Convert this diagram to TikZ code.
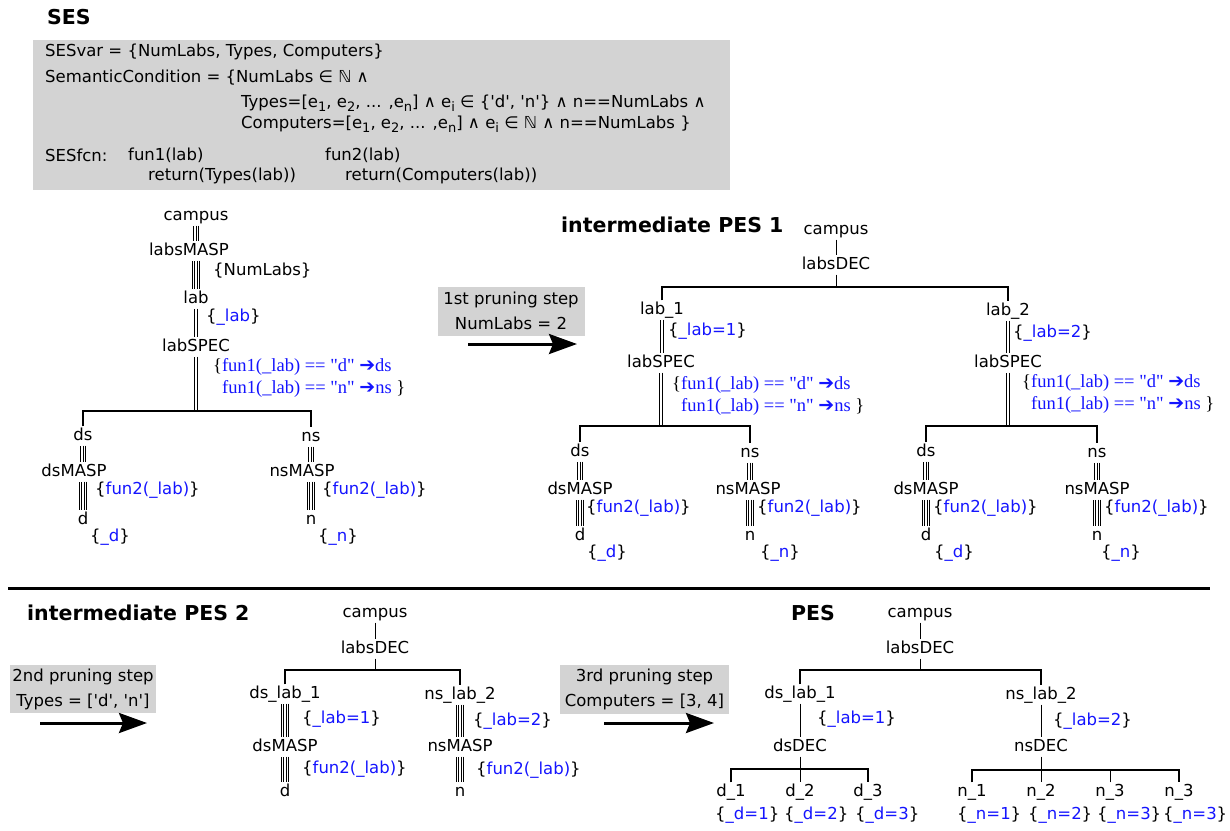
\documentclass[tikz,border=0pt]{standalone}
\usepackage{fontspec}
\setmainfont{DejaVu Sans}
\newfontfamily\sesserif{Liberation Serif}
\newfontfamily\sesarrowfont{DejaVu Sans}
\usetikzlibrary{arrows.meta, calc}
\definecolor{sesgray}{RGB}{211, 211, 211}
\definecolor{sesblue}{RGB}{20, 20, 255}
\newcommand\sestreefont{\fontsize{16.5}{23}\selectfont}
\newcommand\sesspecfont{\sesserif\fontsize{18.5}{21.5}\selectfont}
\newcommand\sesheadfont{\fontsize{20.5}{24}\selectfont\bfseries}
\newcommand\lowsub[1]{\raisebox{-0.25em}{\fontsize{13}{13}\selectfont #1}}
\newcommand\bval[1]{\{\textcolor{sesblue}{#1}\}}
\newcommand\sesarrow{{\sesarrowfont\fontsize{19}{19}\selectfont\char"2794}}
\newcommand\specdn{\textcolor{black}{\{}fun1(\_lab) == "d" \sesarrow ds\\
  \hspace{9pt}fun1(\_lab) == "n" \sesarrow ns \textcolor{black}{\}}}
\tikzset{
  ent/.style={inner xsep=0pt, inner ysep=2pt, text height=11.5pt, text depth=3.5pt, font=\sestreefont},
  ann/.style={anchor=west, inner sep=0pt, font=\sestreefont},
  spec/.style={anchor=west, inner sep=0pt, align=left, font=\sesspecfont, text=sesblue},
  head/.style={anchor=west, inner sep=0pt, font=\sesheadfont},
  sestext/.style={anchor=west, inner sep=0pt, font=\sestreefont},
  stepbox/.style={fill=sesgray, inner sep=0pt, align=center, font=\sestreefont},
  aspect/.style={line width=1pt},
  bar/.style={line width=1.7pt},
  dline/.style={line width=0.8pt, double, double distance=1.8pt},
  tline/.style={line width=5.8pt, postaction={draw=white, line width=4.2pt},
                postaction={draw=black, line width=0.8pt}},
  qline/.style={line width=8.3pt, postaction={draw=white, line width=6.7pt},
                postaction={draw=black, line width=3.3pt},
                postaction={draw=white, line width=1.7pt}},
  pruning/.style={-{Stealth[length=28pt, width=20pt, inset=4pt]}, line width=3pt},
}

\begin{document}
\begin{tikzpicture}[x=1pt, y=-1pt]
\useasboundingbox (0,0) rectangle (1230,830);

% SES definition
\node[head] (sestitle) at (47,17) {SES};
\fill[sesgray] (33,40) rectangle (730,190);
\node[sestext] (sesvar) at (45,52) {SESvar = \{NumLabs, Types, Computers\}};
\node[sestext] (semcond) at (45,78) {SemanticCondition = \{NumLabs ∈ ℕ ∧};
\node[sestext] (semtypes) at (241,103) {Types=[e\lowsub{1}, e\lowsub{2}, ... ,e\lowsub{n}] ∧ e\lowsub{i} ∈ \{\textquotesingle d\textquotesingle, \textquotesingle n\textquotesingle\} ∧ n==NumLabs ∧};
\node[sestext] (semcomp) at (241,124) {Computers=[e\lowsub{1}, e\lowsub{2}, ... ,e\lowsub{n}] ∧ e\lowsub{i} ∈ ℕ ∧ n==NumLabs \}};
\node[sestext] (sesfcn) at (45,155) {SESfcn:};
\node[sestext] (funone) at (128,155) {fun1(lab)};
\node[sestext] (funtwo) at (325,155) {fun2(lab)};
\node[sestext] (retone) at (148,176) {return(Types(lab))};
\node[sestext] (rettwo) at (345,176) {return(Computers(lab))};

% SES tree
\node[ent] (campusA) at (196,216) {campus};
\node[ent] (labsmaspA) at (189,251) {labsMASP};
\node[ent] (labA) at (196,299) {lab};
\node[ent] (labspecA) at (196,347) {labSPEC};
\coordinate (barA) at (196,411);
\node[ent] (dsA) at (83,436) {ds};
\node[ent] (dsmaspA) at (74,472) {dsMASP};
\node[ent] (dA) at (83,520) {d};
\node[ent] (nsA) at (311,437) {ns};
\node[ent] (nsmaspA) at (302,472) {nsMASP};
\node[ent] (nA) at (311,520) {n};
\node[ann] (numlabsA) at (213,271) {\{NumLabs\}};
\node[ann] (labvarA) at (206,317) {\bval{\_lab}};
\node[spec] (specA) at (213,378) {\specdn};
\node[ann] (fundA) at (95,490) {\bval{fun2(\_lab)}};
\node[ann] (funnA) at (322,490) {\bval{fun2(\_lab)}};
\node[ann] (dvarA) at (90,537) {\bval{\_d}};
\node[ann] (nvarA) at (318,537) {\bval{\_n}};
\draw[tline] (campusA) -- (campusA |- labsmaspA.north);
\draw[qline] (labA |- labsmaspA.south) -- (labA);
\draw[dline] (labA) -- (labspecA);
\draw[dline] (labspecA) -- (barA);
\draw[bar] (dsA) |- (barA) -| (nsA);
\draw[tline] (dsA) -- (dsA |- dsmaspA.north);
\draw[qline] (dA |- dsmaspA.south) -- (dA);
\draw[tline] (nsA) -- (nsA |- nsmaspA.north);
\draw[qline] (nA |- nsmaspA.south) -- (nA);

% 1st pruning step
\node[stepbox, minimum width=147pt, minimum height=49pt] (stepone) at (511,311) {1st pruning step\\[2pt]NumLabs = 2};
\coordinate (stepones) at (468,344);
\coordinate (steponee) at (577,344);
\draw[pruning] (stepones) -- (steponee);

% intermediate PES 1
\node[head] (pesonetitle) at (561,225) {intermediate PES 1};
\node[ent] (campusB) at (836,230) {campus};
\node[ent] (labsdecB) at (836,265) {labsDEC};
\coordinate (barB) at (836,287);
\node[ent] (labB1) at (662,310) {lab\_1};
\node[ent] (labB2) at (1008,311) {lab\_2};
\node[ent] (labspecB1) at (661,363) {labSPEC};
\node[ent] (labspecB2) at (1008,363) {labSPEC};
\node[ann] (labvarB1) at (668,331) {\bval{\_lab=1}};
\node[ann] (labvarB2) at (1013,333) {\bval{\_lab=2}};
\node[spec] (specB1) at (672,396) {\specdn};
\node[spec] (specB2) at (1022,394) {\specdn};
\coordinate (barB1) at (661,426);
\coordinate (barB2) at (1008,426);
\draw[aspect] (campusB) -- (labsdecB);
\draw[aspect] (labsdecB) -- (barB);
\draw[bar] (labB1) |- (barB) -| (labB2);
\draw[dline] (labB1) -- (labB1 |- labspecB1.north);
\draw[dline] (labB2) -- (labspecB2);
\draw[dline] (labspecB1) -- (barB1);
\draw[dline] (labspecB2) -- (barB2);
\node[ent] (dsB1) at (580,452) {ds};
\node[ent] (dsmaspB1) at (580,490) {dsMASP};
\node[ent] (dB1) at (580,536) {d};
\node[ent] (nsB1) at (750,453) {ns};
\node[ent] (nsmaspB1) at (748,490) {nsMASP};
\node[ent] (nB1) at (750,536) {n};
\node[ent] (dsB2) at (926,452) {ds};
\node[ent] (dsmaspB2) at (926,490) {dsMASP};
\node[ent] (dB2) at (926,536) {d};
\node[ent] (nsB2) at (1097,453) {ns};
\node[ent] (nsmaspB2) at (1097,490) {nsMASP};
\node[ent] (nB2) at (1097,536) {n};
\node[ann] (fundB1) at (586,508) {\bval{fun2(\_lab)}};
\node[ann] (funnB1) at (757,508) {\bval{fun2(\_lab)}};
\node[ann] (fundB2) at (933,508) {\bval{fun2(\_lab)}};
\node[ann] (funnB2) at (1104,508) {\bval{fun2(\_lab)}};
\node[ann] (dvarB1) at (587,553) {\bval{\_d}};
\node[ann] (nvarB1) at (760,553) {\bval{\_n}};
\node[ann] (dvarB2) at (934,553) {\bval{\_d}};
\node[ann] (nvarB2) at (1101,553) {\bval{\_n}};
\draw[bar] (dsB1) |- (barB1) -| (nsB1);
\draw[bar] (dsB2) |- (barB2) -| (nsB2);
\foreach \t in {B1, B2} {
  \draw[tline] (ds\t) -- (dsmasp\t);
  \draw[qline] (dsmasp\t) -- (d\t);
  \draw[tline] (ns\t) -- (ns\t |- nsmasp\t.north);
  \draw[qline] (n\t |- nsmasp\t.south) -- (n\t);
}

% separator
\coordinate (sepl) at (8,588);
\coordinate (sepr) at (1210,588);
\draw[line width=3pt] (sepl) -- (sepr);

% 2nd pruning step
\node[head] (pestwotitle) at (27,613) {intermediate PES 2};
\node[stepbox, minimum width=146pt, minimum height=48pt] (steptwo) at (83,689) {2nd pruning step\\[2pt]Types = [\textquotesingle d\textquotesingle, \textquotesingle n\textquotesingle]};
\coordinate (steptwos) at (40,723);
\coordinate (steptwoe) at (147,723);
\draw[pruning] (steptwos) -- (steptwoe);

% intermediate PES 2
\node[ent] (campusC) at (375,613) {campus};
\node[ent] (labsdecC) at (375,649) {labsDEC};
\coordinate (barC) at (375,670);
\node[ent] (dslabC) at (285,694) {ds\_lab\_1};
\node[ent] (nslabC) at (460,695) {ns\_lab\_2};
\node[ent] (dsmaspC) at (285,747) {dsMASP};
\node[ent] (nsmaspC) at (460,747) {nsMASP};
\node[ent] (dC) at (285,792) {d};
\node[ent] (nC) at (460,792) {n};
\node[ann] (labvarC1) at (302,719) {\bval{\_lab=1}};
\node[ann] (labvarC2) at (473,721) {\bval{\_lab=2}};
\node[ann] (fundC) at (302,769) {\bval{fun2(\_lab)}};
\node[ann] (funnC) at (476,770) {\bval{fun2(\_lab)}};
\draw[aspect] (campusC) -- (labsdecC);
\draw[aspect] (labsdecC) -- (barC);
\draw[bar] (dslabC) |- (barC) -| (nslabC);
\draw[qline] (dslabC) -- (dsmaspC);
\draw[qline] (nslabC) -- (nsmaspC);
\draw[qline] (dsmaspC) -- (dC);
\draw[qline] (nsmaspC) -- (nC);

% 3rd pruning step
\node[stepbox, minimum width=169pt, minimum height=49pt] (stepthree) at (644.5,689.5) {3rd pruning step\\[2pt]Computers = [3, 4]};
\coordinate (stepthrees) at (604,723);
\coordinate (stepthreee) at (714,723);
\draw[pruning] (stepthrees) -- (stepthreee);

% PES
\node[head] (pestitle) at (791,613) {PES};
\node[ent] (campusD) at (920,613) {campus};
\node[ent] (labsdecD) at (920,649) {labsDEC};
\coordinate (barD) at (920,670);
\node[ent] (dslabD) at (800,694) {ds\_lab\_1};
\node[ent] (nslabD) at (1041,695) {ns\_lab\_2};
\node[ent] (dsdecD) at (800,747) {dsDEC};
\node[ent] (nsdecD) at (1041,747) {nsDEC};
\node[ann] (labvarD1) at (817,719) {\bval{\_lab=1}};
\node[ann] (labvarD2) at (1053,721) {\bval{\_lab=2}};
\coordinate (dsbarD) at (800,769);
\coordinate (nsbarD) at (1041,770);
\node[ent] (dD1) at (731,792) {d\_1};
\node[ent] (dD2) at (800,792) {d\_2};
\node[ent] (dD3) at (868,792) {d\_3};
\node[ent] (nD1) at (972,792) {n\_1};
\node[ent] (nD2) at (1041,792) {n\_2};
\node[ent] (nD3) at (1110,792) {n\_3};
\node[ent] (nD4) at (1179,792) {n\_3};
\node[ann] (dvarD1) at (715,815) {\bval{\_d=1}};
\node[ann] (dvarD2) at (784,815) {\bval{\_d=2}};
\node[ann] (dvarD3) at (855,815) {\bval{\_d=3}};
\node[ann] (nvarD1) at (957,815) {\bval{\_n=1}};
\node[ann] (nvarD2) at (1028,815) {\bval{\_n=2}};
\node[ann] (nvarD3) at (1097,815) {\bval{\_n=3}};
\node[ann] (nvarD4) at (1163,815) {\bval{\_n=3}};
\draw[aspect] (campusD) -- (labsdecD);
\draw[aspect] (labsdecD) -- (barD);
\draw[bar] (dslabD) |- (barD) -| (nslabD);
\draw[aspect] (dslabD) -- (dsdecD);
\draw[aspect] (nslabD) -- (nsdecD);
\draw[aspect] (dsdecD) -- (dD2);
\draw[bar] (dD1) |- (dsbarD) -| (dD3);
\draw[aspect] (nsdecD) -- (nD2);
\draw[bar] (nD1) |- (nsbarD) -| (nD4);
\draw[aspect] (nD3) -- (nD3 |- nsbarD);
\end{tikzpicture}
\end{document}
